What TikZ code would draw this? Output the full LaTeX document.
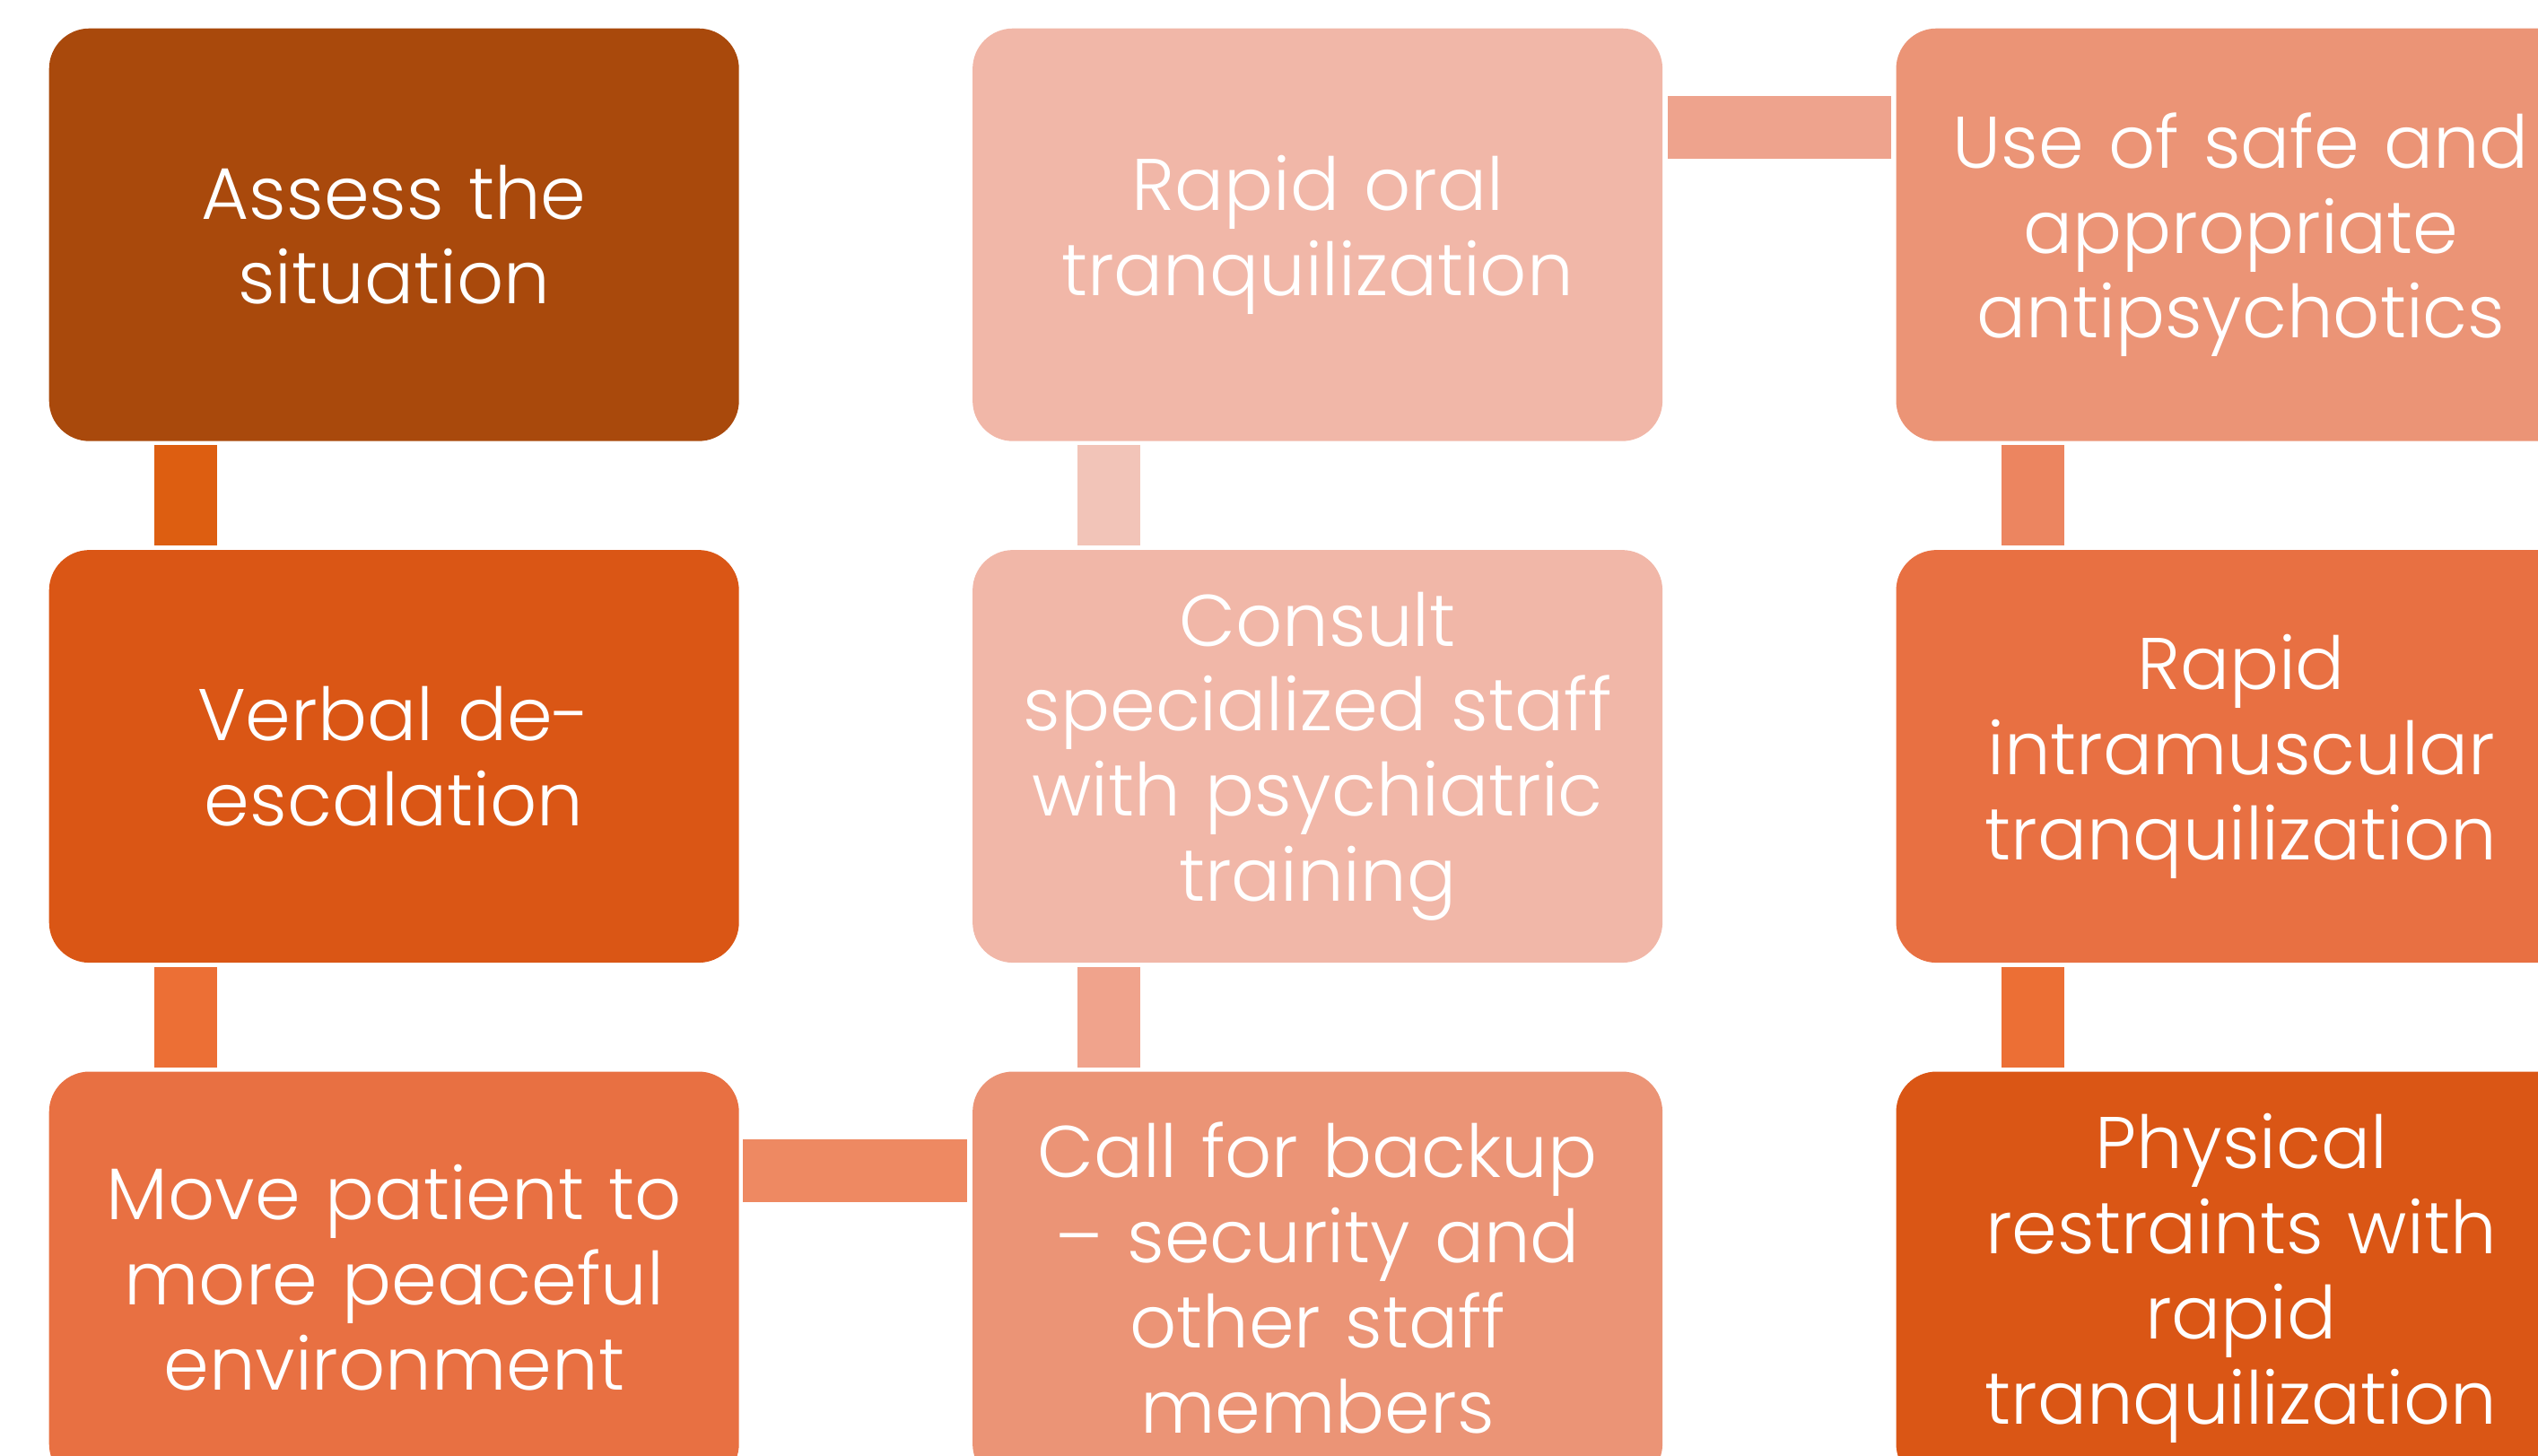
\documentclass[tikz,border=0pt]{standalone}
\usepackage{fontspec}
\setmainfont{Poppins}[UprightFont=* Light]
\usepackage{tikz}
\usetikzlibrary{positioning}

% fills, darkest to lightest
\definecolor{rust}{HTML}{A9490C}
\definecolor{burnt}{HTML}{DA5615}
\definecolor{pumpkin}{HTML}{E87042}
\definecolor{salmon}{HTML}{EB9476}
\definecolor{blush}{HTML}{F1B7A8}
% bars between the steps
\definecolor{barA}{HTML}{DD5E11}
\definecolor{barB}{HTML}{EC6F35}
\definecolor{barC}{HTML}{EE8962}
\definecolor{barD}{HTML}{F0A38C}
\definecolor{barE}{HTML}{F2C4B8}
\definecolor{barF}{HTML}{EEA38D}
\definecolor{barG}{HTML}{EC8560}

\tikzset{
	node distance=1.2cm and 2.59cm,
	stepbox/.style={rectangle, rounded corners=0.45cm, minimum width=7.69cm,
		minimum height=4.6cm, text width=7.3cm, inner sep=0pt, align=center,
		text=white, font=\fontsize{23.2}{27}\selectfont},
}

\begin{document}
\begin{tikzpicture}
	\useasboundingbox (0,0) rectangle (28.29,-16.23);
	\clip (0,0) rectangle (28.29,-16.23);

	\node[stepbox, fill=rust, anchor=north west] at (0.54,-0.31) (assess) {Assess the\\situation};
	\node[stepbox, fill=burnt, below=of assess]     (verbal)   {Verbal de-\\escalation};
	\node[stepbox, fill=pumpkin, below=of verbal]   (move)     {Move patient to\\more peaceful\\environment};
	\node[stepbox, fill=salmon, right=of move]      (backup)   {Call for backup\\– security and\\other staff\\members};
	\node[stepbox, fill=blush, above=of backup]     (consult)  {Consult\\specialized staff\\with psychiatric\\training};
	\node[stepbox, fill=blush, above=of consult]    (oral)     {Rapid oral\\tranquilization};
	\node[stepbox, fill=salmon, right=of oral]      (safe)     {Use of safe and\\appropriate\\antipsychotics};
	\node[stepbox, fill=pumpkin, below=of safe]     (rapidim)  {Rapid\\intramuscular\\tranquilization};
	\node[stepbox, fill=burnt, below=of rapidim]    (restrain) {Physical\\restraints with\\rapid\\tranquilization};

	% vertical bars
	\fill[barA] ([xshift=1.18cm,yshift=-0.04cm]assess.south west) rectangle ([xshift=1.88cm,yshift=0.04cm]verbal.north west);
	\fill[barB] ([xshift=1.18cm,yshift=-0.04cm]verbal.south west) rectangle ([xshift=1.88cm,yshift=0.04cm]move.north west);
	\fill[barD] ([xshift=1.18cm,yshift=-0.04cm]consult.south west) rectangle ([xshift=1.88cm,yshift=0.04cm]backup.north west);
	\fill[barE] ([xshift=1.18cm,yshift=-0.04cm]oral.south west) rectangle ([xshift=1.88cm,yshift=0.04cm]consult.north west);
	\fill[barG] ([xshift=1.18cm,yshift=-0.04cm]safe.south west) rectangle ([xshift=1.88cm,yshift=0.04cm]rapidim.north west);
	\fill[barB] ([xshift=1.18cm,yshift=-0.04cm]rapidim.south west) rectangle ([xshift=1.88cm,yshift=0.04cm]restrain.north west);

	% horizontal bars
	\fill[barC] ([xshift=0.04cm,yshift=-0.76cm]move.north east) rectangle ([xshift=-0.05cm,yshift=-1.46cm]backup.north west);
	\fill[barF] ([xshift=0.05cm,yshift=-0.76cm]oral.north east) rectangle ([xshift=-0.05cm,yshift=-1.46cm]safe.north west);
\end{tikzpicture}
\end{document}
